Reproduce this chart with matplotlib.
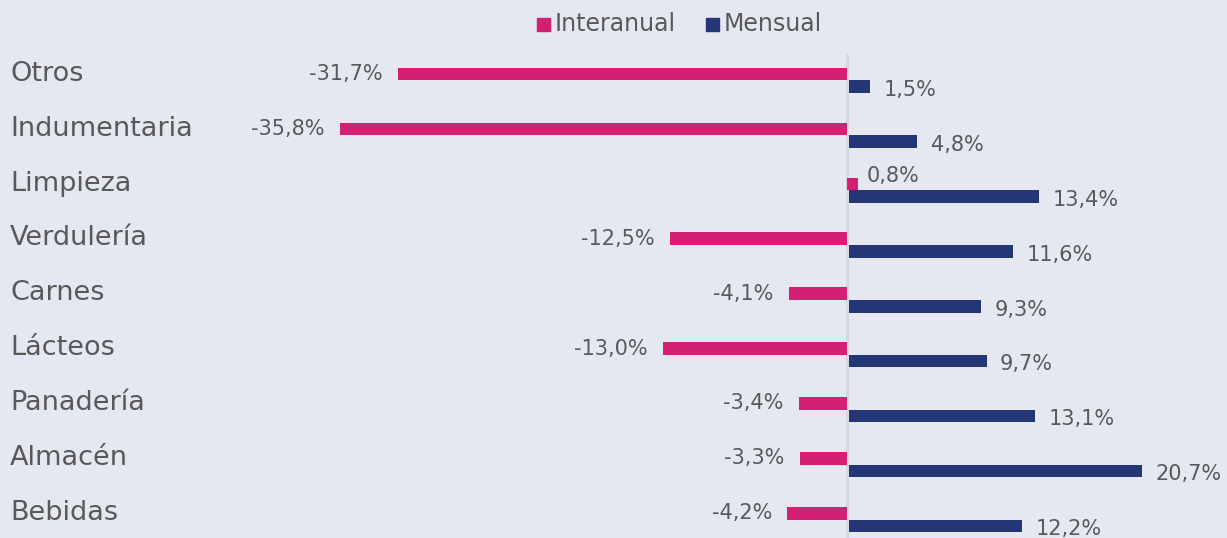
import matplotlib
matplotlib.use("Agg")
import matplotlib.pyplot as plt
import numpy as np
from matplotlib.patches import Rectangle

categories = ["Otros", "Indumentaria", "Limpieza", "Verdulería", "Carnes",
              "Lácteos", "Panadería", "Almacén", "Bebidas"]
interanual = [-31.7, -35.8, 0.8, -12.5, -4.1, -13.0, -3.4, -3.3, -4.2]
mensual = [1.5, 4.8, 13.4, 11.6, 9.3, 9.7, 13.1, 20.7, 12.2]
series_names = ["Interanual", "Mensual"]

c_inter = "#d41f72"
c_mens = "#253677"
bg = "#e5e8f0"
txt = "#595959"

plt.rcParams['font.family'] = ['DejaVu Sans']

W, H = 1227, 538
fig = plt.figure(figsize=(W / 100, H / 100), dpi=100, facecolor=bg)
ax = fig.add_axes([0, 0, 1, 1], facecolor=bg)

ppu = 14.17
x0 = 847
ax.set_xlim(-x0 / ppu, (W - x0) / ppu)
ax.set_ylim(8 + (H - 519.5) / 55, -80.5 / 55)
ax.axis("off")

y = np.arange(len(categories))
bh = 0.23
ax.barh(y - bh / 2, interanual, height=bh, color=c_inter, zorder=3)
ax.barh(y + bh / 2, mensual, height=bh, left=0.15, color=c_mens, zorder=3)

ax.plot([0, 0], [-0.46, 9], color="#d6d8de", lw=2, zorder=2)

def fmt(v):
    return f"{v:.1f}%".replace(".", ",")

for i, (a, b) in enumerate(zip(interanual, mensual)):
    if a < 0:
        ax.text(a - 1.1, i - bh / 2, fmt(a), ha="right", va="center",
                fontsize=15, color=txt)
    else:
        ax.text(a + 0.6, i - bh / 2 - 0.15, fmt(a), ha="left", va="center",
                fontsize=15, color=txt)
    ax.text(b + 1.1, i + bh / 2 + 0.06, fmt(b), ha="left", va="center",
            fontsize=15, color=txt)
    ax.text(10 / ppu - x0 / ppu, i - 0.12, categories[i], ha="left", va="center",
            fontsize=19.5, color=txt)

# legend
legend_items = [(537, series_names[0], c_inter), (706, series_names[1], c_mens)]
for px, name, col in legend_items:
    fig.patches.append(Rectangle((px / W, 1 - 31 / H), 13 / W, 13 / H,
                                 transform=fig.transFigure, color=col))
    fig.text((px + 18) / W, 1 - 24 / H, name, ha="left", va="center",
             fontsize=17, color=txt)

fig.savefig("out.png", dpi=100, facecolor=bg)
